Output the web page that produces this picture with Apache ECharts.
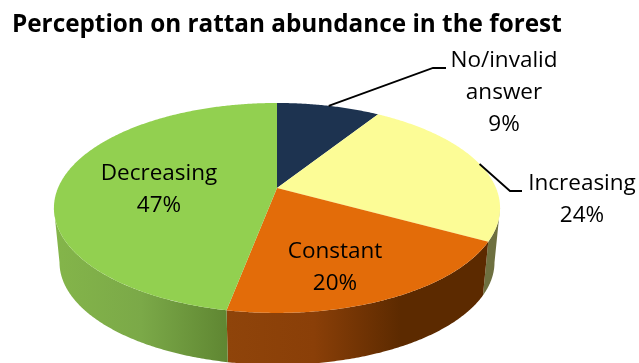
<!DOCTYPE html>
<html>
<head>
<meta charset="utf-8">
<style>html,body{margin:0;padding:0;background:#fff}#c{width:639px;height:363px}</style>
<script src="https://cdn.jsdelivr.net/npm/echarts@6/dist/echarts.min.js"></script>
</head>
<body>
<div id="c"></div>
<script>
// Data, clockwise from 12 o'clock
const categories = ['No/invalid\nanswer', 'Increasing', 'Constant', 'Decreasing'];
const shares = [9, 24, 20, 47];
const chartTitle = 'Perception on rattan abundance in the forest';

// Styles
const FONT = 'Open Sans';
const topColors = ['#1D3350', '#FCFC96', '#E36C09', '#92D050'];
const sideStops = [
  ['#6E7040', '#6E7040'],
  ['#8F440A', '#8A3F08', '#5C2A00', '#5C2A00'],
  ['#84B54A', '#7BA948', '#5F8632']
];
// Projected pie geometry (tilted disc with perspective)
const G = { cx: 277, cy: 188, b: 219, a: 101.2, k: 0.19, depth: 55, shrink: 0.975 };
const labelAt = [[504, 93], [582, 200], [335, 268], [159, 190]];
const leaders = { 0: [[433, 68], [446, 68]], 1: [[510, 191], [522, 191]] };

function project(deg, bottom) {
  const t = deg * Math.PI / 180, u = Math.sin(t), v = -Math.cos(t);
  const s = bottom ? G.shrink : 1, d = 1 - G.k * v;
  return [G.cx + s * G.b * u / d, G.cy + (bottom ? G.depth : 0) + s * G.a * v / d];
}
const total = shares.reduce((p, c) => p + c, 0);
const starts = [];
shares.reduce((acc, v, i) => { starts[i] = acc; return acc + v; }, 0);
const toDeg = v => v / total * 360;
const arc = (a, b, bottom) => {
  const pts = [], n = Math.max(2, Math.ceil(Math.abs(b - a) * 2));
  for (let i = 0; i <= n; i++) pts.push(project(a + (b - a) * i / n, bottom));
  return pts;
};
// Rim is visible where the disc edge faces the viewer
const rimFrom = Math.acos(-G.k) * 180 / Math.PI, rimTo = 360 - rimFrom;

const rows = categories.map((c, i) => [i, shares[i]]);

const renderSide = (params, api) => {
  const i = api.value(0), a = toDeg(starts[i]), b = a + toDeg(shares[i]);
  const from = Math.max(a, rimFrom), to = Math.min(b, rimTo);
  if (to <= from) return { type: 'group', children: [] };
  const pts = arc(from, to, false).concat(arc(to, from, true));
  const stops = sideStops[i - 1].map((color, j, arr) => ({ offset: j / (arr.length - 1), color }));
  const xs = pts.map(p => p[0]);
  const x0 = Math.min(...xs), x1 = Math.max(...xs);
  return {
    type: 'polygon', shape: { points: pts },
    style: { fill: new echarts.graphic.LinearGradient(x0, 0, x1, 0, stops, true) }
  };
};
const renderTop = (params, api) => {
  const i = api.value(0), a = toDeg(starts[i]), b = a + toDeg(shares[i]);
  return {
    type: 'polygon',
    shape: { points: [[G.cx, G.cy]].concat(arc(a, b, false)) },
    style: { fill: topColors[i] }
  };
};
const renderLabel = (params, api) => {
  const i = api.value(0), a = toDeg(starts[i]), mid = a + toDeg(shares[i]) / 2;
  const children = [{
    type: 'text', x: labelAt[i][0], y: labelAt[i][1],
    style: {
      text: categories[i] + '\n' + shares[i] + '%',
      font: '22.5px "' + FONT + '"', fill: '#000', align: 'center', verticalAlign: 'middle',
      lineHeight: 32
    }
  }];
  if (leaders[i]) {
    children.push({
      type: 'polyline', shape: { points: [project(mid, false)].concat(leaders[i]) },
      style: { stroke: '#000', lineWidth: 1.8, fill: 'none' }
    });
  }
  return { type: 'group', children };
};

const chart = echarts.init(document.getElementById('c'), null, { renderer: 'canvas' });
const custom = (renderItem, z) => ({
  type: 'custom', coordinateSystem: 'none', renderItem, data: rows, z, silent: true,
  animation: false, clip: false
});
chart.setOption({
  animation: false,
  backgroundColor: '#fff',
  title: {
    text: chartTitle, left: 12, top: 13, padding: 0,
    textStyle: { fontFamily: FONT, fontWeight: 'bold', fontSize: 24.3, color: '#000' }
  },
  series: [custom(renderSide, 1), custom(renderTop, 2), custom(renderLabel, 3)]
});
</script>
</body>
</html>
